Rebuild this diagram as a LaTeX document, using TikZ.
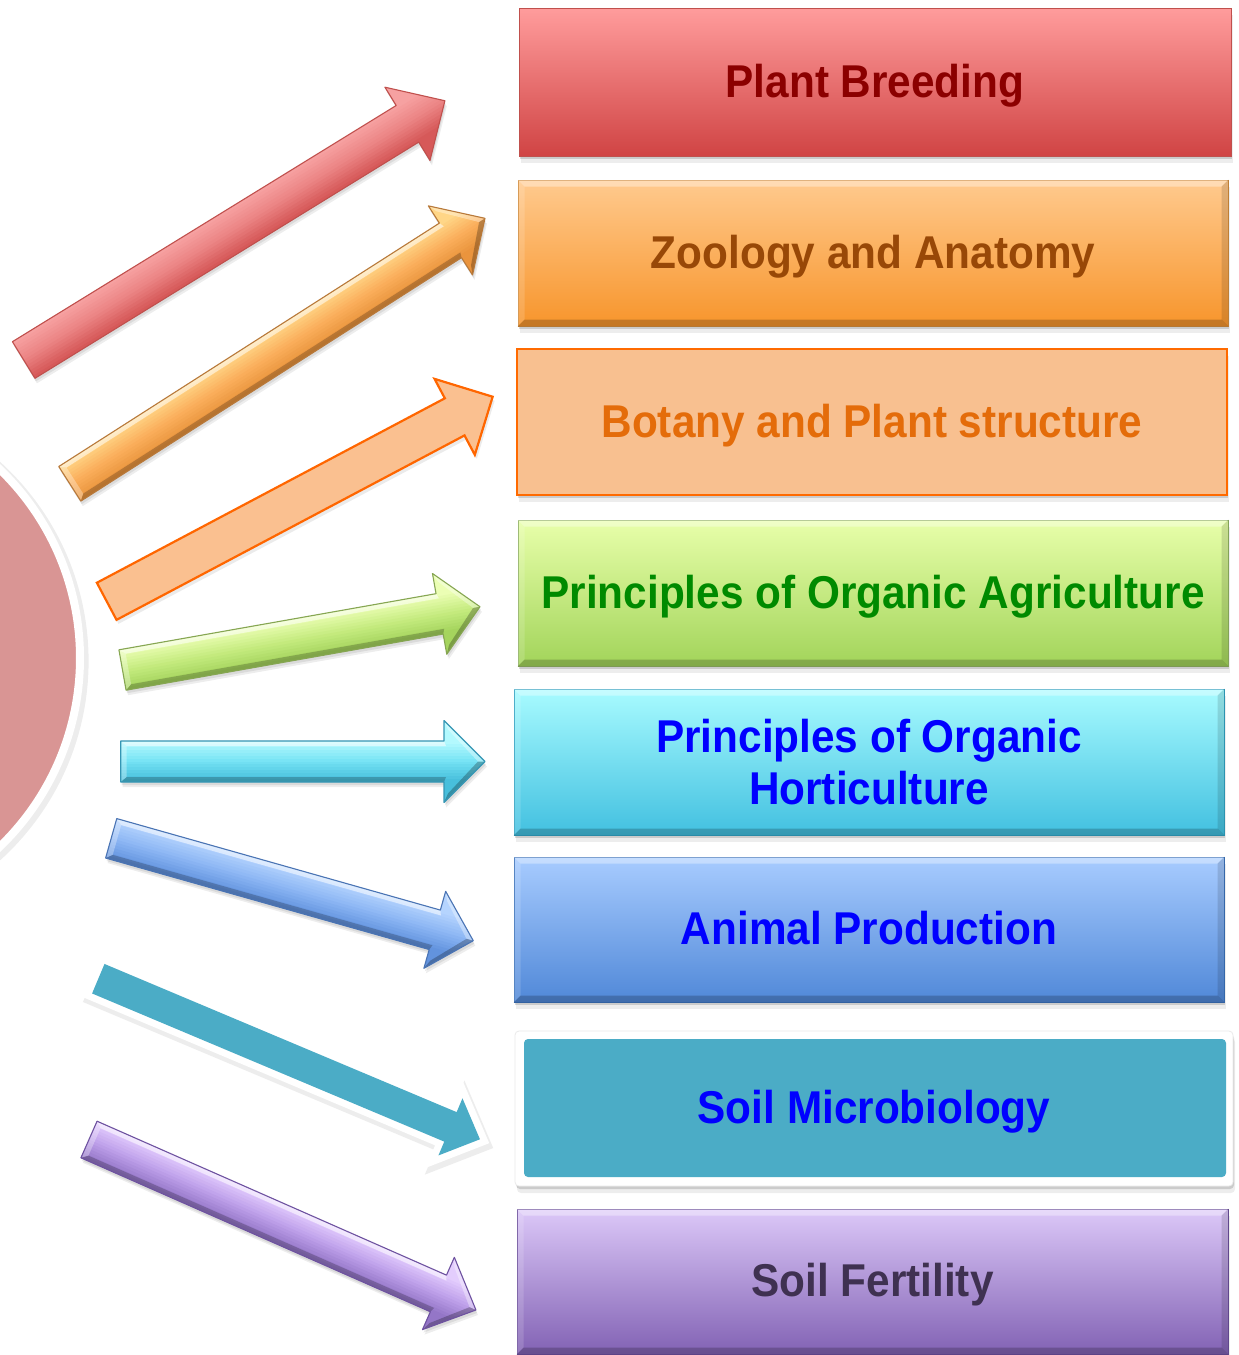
\documentclass[tikz,border=0pt]{standalone}
\usepackage{fontspec}
\newfontfamily\boxfont{Liberation Sans}[FakeStretch=0.92]
\usetikzlibrary{shadows}

% arrow colours
\definecolor{ar1top}{HTML}{F7A3A3}\definecolor{ar1mid}{HTML}{EB8383}\definecolor{ar1bot}{HTML}{D45555}\definecolor{ar1edge}{HTML}{C0504D}
\definecolor{ar2top}{HTML}{FFD98A}\definecolor{ar2mid}{HTML}{FBAF5C}\definecolor{ar2bot}{HTML}{E8923A}\definecolor{ar2edge}{HTML}{B8793A}
\definecolor{ar4top}{HTML}{EEFFB8}\definecolor{ar4mid}{HTML}{C6EC80}\definecolor{ar4bot}{HTML}{A2D25A}\definecolor{ar4edge}{HTML}{86A652}
\definecolor{ar5top}{HTML}{B8FBFF}\definecolor{ar5mid}{HTML}{74E2F4}\definecolor{ar5bot}{HTML}{44BCDA}\definecolor{ar5edge}{HTML}{3596B4}
\definecolor{ar6top}{HTML}{B8D6FF}\definecolor{ar6mid}{HTML}{8CB6F4}\definecolor{ar6bot}{HTML}{5E90DC}\definecolor{ar6edge}{HTML}{4A74B4}
\definecolor{ar8top}{HTML}{E6D0FF}\definecolor{ar8mid}{HTML}{BEA0EA}\definecolor{ar8bot}{HTML}{9072C4}\definecolor{ar8edge}{HTML}{6E52A0}
\definecolor{ar3fill}{HTML}{FAC090}\definecolor{ar3edge}{HTML}{FF6600}
\definecolor{tealc}{HTML}{4BACC6}
\definecolor{circpink}{HTML}{D99594}
% box colours
\definecolor{b1top}{HTML}{FF9C9C}\definecolor{b1mid}{HTML}{EC7C7C}\definecolor{b1bot}{HTML}{D04444}\definecolor{b1edge}{HTML}{C0504D}\definecolor{b1txt}{HTML}{8B0000}
\definecolor{b2top}{HTML}{FFCA8E}\definecolor{b2mid}{HTML}{FDB565}\definecolor{b2bot}{HTML}{F7952C}\definecolor{b2edge}{HTML}{D08A3A}\definecolor{b2txt}{HTML}{984807}
\definecolor{b3fill}{HTML}{F8C090}\definecolor{b3edge}{HTML}{FF6A00}\definecolor{b3txt}{HTML}{E46C0A}
\definecolor{b4top}{HTML}{E8FFAA}\definecolor{b4mid}{HTML}{D0F088}\definecolor{b4bot}{HTML}{A2D45A}\definecolor{b4edge}{HTML}{8FB060}\definecolor{b4txt}{HTML}{008A00}
\definecolor{b5top}{HTML}{A8FBFF}\definecolor{b5mid}{HTML}{80EAF8}\definecolor{b5bot}{HTML}{42C0E0}\definecolor{b5edge}{HTML}{30A0C0}
\definecolor{b6top}{HTML}{A8CCFF}\definecolor{b6mid}{HTML}{88B0F0}\definecolor{b6bot}{HTML}{5088D8}\definecolor{b6edge}{HTML}{3A70B8}
\definecolor{b8top}{HTML}{DCC8F8}\definecolor{b8mid}{HTML}{C0A4E8}\definecolor{b8bot}{HTML}{8262B4}\definecolor{b8edge}{HTML}{6A4E9A}\definecolor{b8txt}{HTML}{3F3151}
\definecolor{bluetxt}{HTML}{0000FF}

% block-arrow helpers
\newcommand{\arrsetup}[5]{%
  \pgfpointdiff{\pgfpointanchor{#1}{center}}{\pgfpointanchor{#2}{center}}%
  \pgfgetlastxy{\ARdx}{\ARdy}%
  \pgfmathsetmacro\ARang{atan2(\ARdy,\ARdx)}%
  \pgfmathsetmacro\ARlen{veclen(\ARdx,\ARdy)}%
  \def\aw{#3}\def\aH{#4}\def\ah{#5}}
\newcommand{\apath}{(0,{-\aw/2}) -- ({\ARlen-\ah},{-\aw/2}) -- ({\ARlen-\ah},{-\aH/2}) -- (\ARlen,0) -- ({\ARlen-\ah},{\aH/2}) -- ({\ARlen-\ah},{\aw/2}) -- (0,{\aw/2}) -- cycle}
% #1 tail, #2 tip, #3 shaft width, #4 head width, #5 head length, #6 colour prefix, #7 bevel strength
\newcommand{\gradarrow}[7]{%
  \arrsetup{#1}{#2}{#3}{#4}{#5}%
  \begin{scope}[shift={(#1)}, shift={(2,5)}, rotate=\ARang]
    \fill[black,opacity=.07] \apath;
  \end{scope}
  \begin{scope}[shift={(#1)}, shift={(1,3)}, rotate=\ARang]
    \fill[black,opacity=.08] \apath;
  \end{scope}
  \begin{scope}[shift={(#1)}, rotate=\ARang]
    \begin{scope}
      \clip \apath;
      \foreach \i in {0,...,13}{%
        \pgfmathsetmacro\ya{ifthenelse(\i==0,-\aH/2-4,-\aw/2+\i*\aw/14)}%
        \pgfmathsetmacro\yb{ifthenelse(\i==13,\aH/2+4,-\aw/2+(\i+1)*\aw/14+0.6)}%
        \pgfmathtruncatemacro\pa{(\i+0.5)/14*200}%
        \pgfmathtruncatemacro\pb{((\i+0.5)/14-0.5)*200}%
        \ifnum\i<7 \colorlet{sc}{#6mid!\pa!#6top}\else\colorlet{sc}{#6bot!\pb!#6mid}\fi
        \fill[sc] (-3,\ya) rectangle ({\ARlen+3},\yb);
      }
      % bevel facets
      \fill[white,opacity=#7*.55] (0,{-\aw/2}) -- ({\ARlen-\ah},{-\aw/2}) -- ({\ARlen-\ah+2},{-\aw/2+5}) -- (6,{-\aw/2+5}) -- cycle;
      \fill[white,opacity=#7*.3] (0,{-\aw/2}) -- (6,{-\aw/2+5}) -- (6,{\aw/2-5}) -- (0,{\aw/2}) -- cycle;
      \fill[black,opacity=#7*.22] (0,{\aw/2}) -- (6,{\aw/2-5}) -- ({\ARlen-\ah+2},{\aw/2-5}) -- ({\ARlen-\ah},{\aw/2}) -- cycle;
      \fill[white,opacity=#7*.35] ({\ARlen-\ah},{-\aH/2}) -- (\ARlen,0) -- ({\ARlen-7},0) -- ({\ARlen-\ah+4},{-\aH/2+9}) -- cycle;
      \fill[black,opacity=#7*.25] ({\ARlen-\ah},{\aH/2}) -- (\ARlen,0) -- ({\ARlen-7},0) -- ({\ARlen-\ah+4},{\aH/2-9}) -- cycle;
    \end{scope}
    \draw[#6edge, line width=1.1pt, line join=round] \apath;
  \end{scope}}
\newcommand{\bevel}[1]{%
  \fill[white,opacity=.35] (#1.north west) -- (#1.north east) -- ([shift={(-7pt,-7pt)}]#1.north east) -- ([shift={(7pt,-7pt)}]#1.north west) -- cycle;
  \fill[white,opacity=.15] (#1.north west) -- ([shift={(7pt,-7pt)}]#1.north west) -- ([shift={(7pt,7pt)}]#1.south west) -- (#1.south west) -- cycle;
  \fill[black,opacity=.12] (#1.north east) -- ([shift={(-7pt,-7pt)}]#1.north east) -- ([shift={(-7pt,7pt)}]#1.south east) -- (#1.south east) -- cycle;
  \fill[black,opacity=.2] (#1.south west) -- ([shift={(7pt,7pt)}]#1.south west) -- ([shift={(-7pt,7pt)}]#1.south east) -- (#1.south east) -- cycle;}

\tikzset{
  box/.style={minimum width=710pt, minimum height=146pt, inner sep=0pt,
    text height=30pt, text depth=0pt,
    font=\boxfont\bfseries\fontsize{46}{52}\selectfont,
    drop shadow={shadow xshift=1pt, shadow yshift=-3pt, opacity=.14, fill=black},
    drop shadow={shadow xshift=2pt, shadow yshift=-7pt, opacity=.07, fill=black}},
  gradbox/.style n args={4}{box, top color=#1, middle color=#2, bottom color=#3, draw=#4, line width=1pt},
}

\begin{document}
\begin{tikzpicture}[x=1pt,y=-1pt]
\useasboundingbox (0,0) rectangle (1239,1355);
\fill[white] (0,0) rectangle (1239,1355);
\clip (0,0) rectangle (1239,1355);

% central circle
\node[circle, fill=circpink, draw=white, line width=8pt, minimum size=524pt, inner sep=0pt,
  drop shadow={shadow xshift=2pt, shadow yshift=-3pt, shadow scale=1.025, opacity=.07, fill=black}] (hub) at (-182,658) {};

% arrow end points
\coordinate (t1) at (23.7,360);  \coordinate (p1) at (445,100.7);
\coordinate (t2) at (69.8,483.8); \coordinate (p2) at (485,218.3);
\coordinate (t3) at (106.7,601.3); \coordinate (p3) at (492.7,396.7);
\coordinate (t4) at (122.5,670); \coordinate (p4) at (480,606.7);
\coordinate (t5) at (120.7,761.5); \coordinate (p5) at (485,761.5);
\coordinate (t6) at (111.2,838.3); \coordinate (p6) at (473.3,940.7);
\coordinate (t7) at (98.3,978.7); \coordinate (p7) at (480,1139.3);
\coordinate (t8) at (89,1139.5); \coordinate (p8) at (476,1310);

% arrows
\gradarrow{t1}{p1}{43}{86}{44}{ar1}{0}
\gradarrow{t2}{p2}{41}{82}{41}{ar2}{1}
% flat outlined arrow
\arrsetup{t3}{p3}{42}{86}{43}
\begin{scope}[shift={(t3)}, shift={(2,4)}, rotate=\ARang]
  \fill[black,opacity=.08] \apath;
\end{scope}
\begin{scope}[shift={(t3)}, rotate=\ARang]
  \draw[ar3edge, fill=ar3fill, line width=2.2pt, line join=miter] \apath;
\end{scope}
\gradarrow{t4}{p4}{41}{82}{41}{ar4}{1}
\gradarrow{t5}{p5}{41}{82}{41}{ar5}{1}
\gradarrow{t6}{p6}{41}{80}{40}{ar6}{1}
% teal arrow with white outline
\arrsetup{t7}{p7}{32}{62}{32}
\begin{scope}[shift={(t7)}, shift={(2,4)}, rotate=\ARang]
  \draw[black!7, fill=black!7, line width=17pt, line join=miter] \apath;
\end{scope}
\begin{scope}[shift={(t7)}, rotate=\ARang]
  \draw[white, fill=tealc, line width=14pt, line join=miter] \apath;
  \fill[tealc] \apath;
\end{scope}
\gradarrow{t8}{p8}{40}{79}{41}{ar8}{1}

% boxes
\node[gradbox={b1top}{b1mid}{b1bot}{b1edge}, minimum width=712pt, minimum height=148pt, text=b1txt] (pb) at (875,82) {Plant Breeding};
\node[gradbox={b2top}{b2mid}{b2bot}{b2edge}, text=b2txt] (za) at (873,253) {Zoology and Anatomy};
\node[box, fill=b3fill, draw=b3edge, line width=2pt, text=b3txt] (bp) at (872,422) {Botany and Plant structure};
\node[gradbox={b4top}{b4mid}{b4bot}{b4edge}, text=b4txt] (oa) at (873,593) {Principles of Organic Agriculture};
\node[gradbox={b5top}{b5mid}{b5bot}{b5edge}, text height=, text depth=, align=center, text=bluetxt] (oh) at (869,762) {Principles of Organic\\Horticulture};
\node[gradbox={b6top}{b6mid}{b6bot}{b6edge}, minimum height=145pt, text=bluetxt] (ap) at (869,929.5) {Animal Production};
\node[box, minimum width=718pt, minimum height=155pt, fill=white, draw=black!8, line width=0.8pt, rounded corners=4pt, text=bluetxt,
  path picture={\fill[tealc] ([shift={(9pt,9pt)}]path picture bounding box.south west) rectangle ([shift={(-7pt,-8pt)}]path picture bounding box.north east);}] (sm) at (874,1108.5) {Soil Microbiology};
\node[gradbox={b8top}{b8mid}{b8bot}{b8edge}, minimum width=711pt, minimum height=145pt, text=b8txt] (sf) at (872.5,1281.5) {Soil Fertility};

\bevel{za}
\bevel{oa}
\bevel{oh}
\bevel{ap}
\bevel{sf}
\end{tikzpicture}
\end{document}
